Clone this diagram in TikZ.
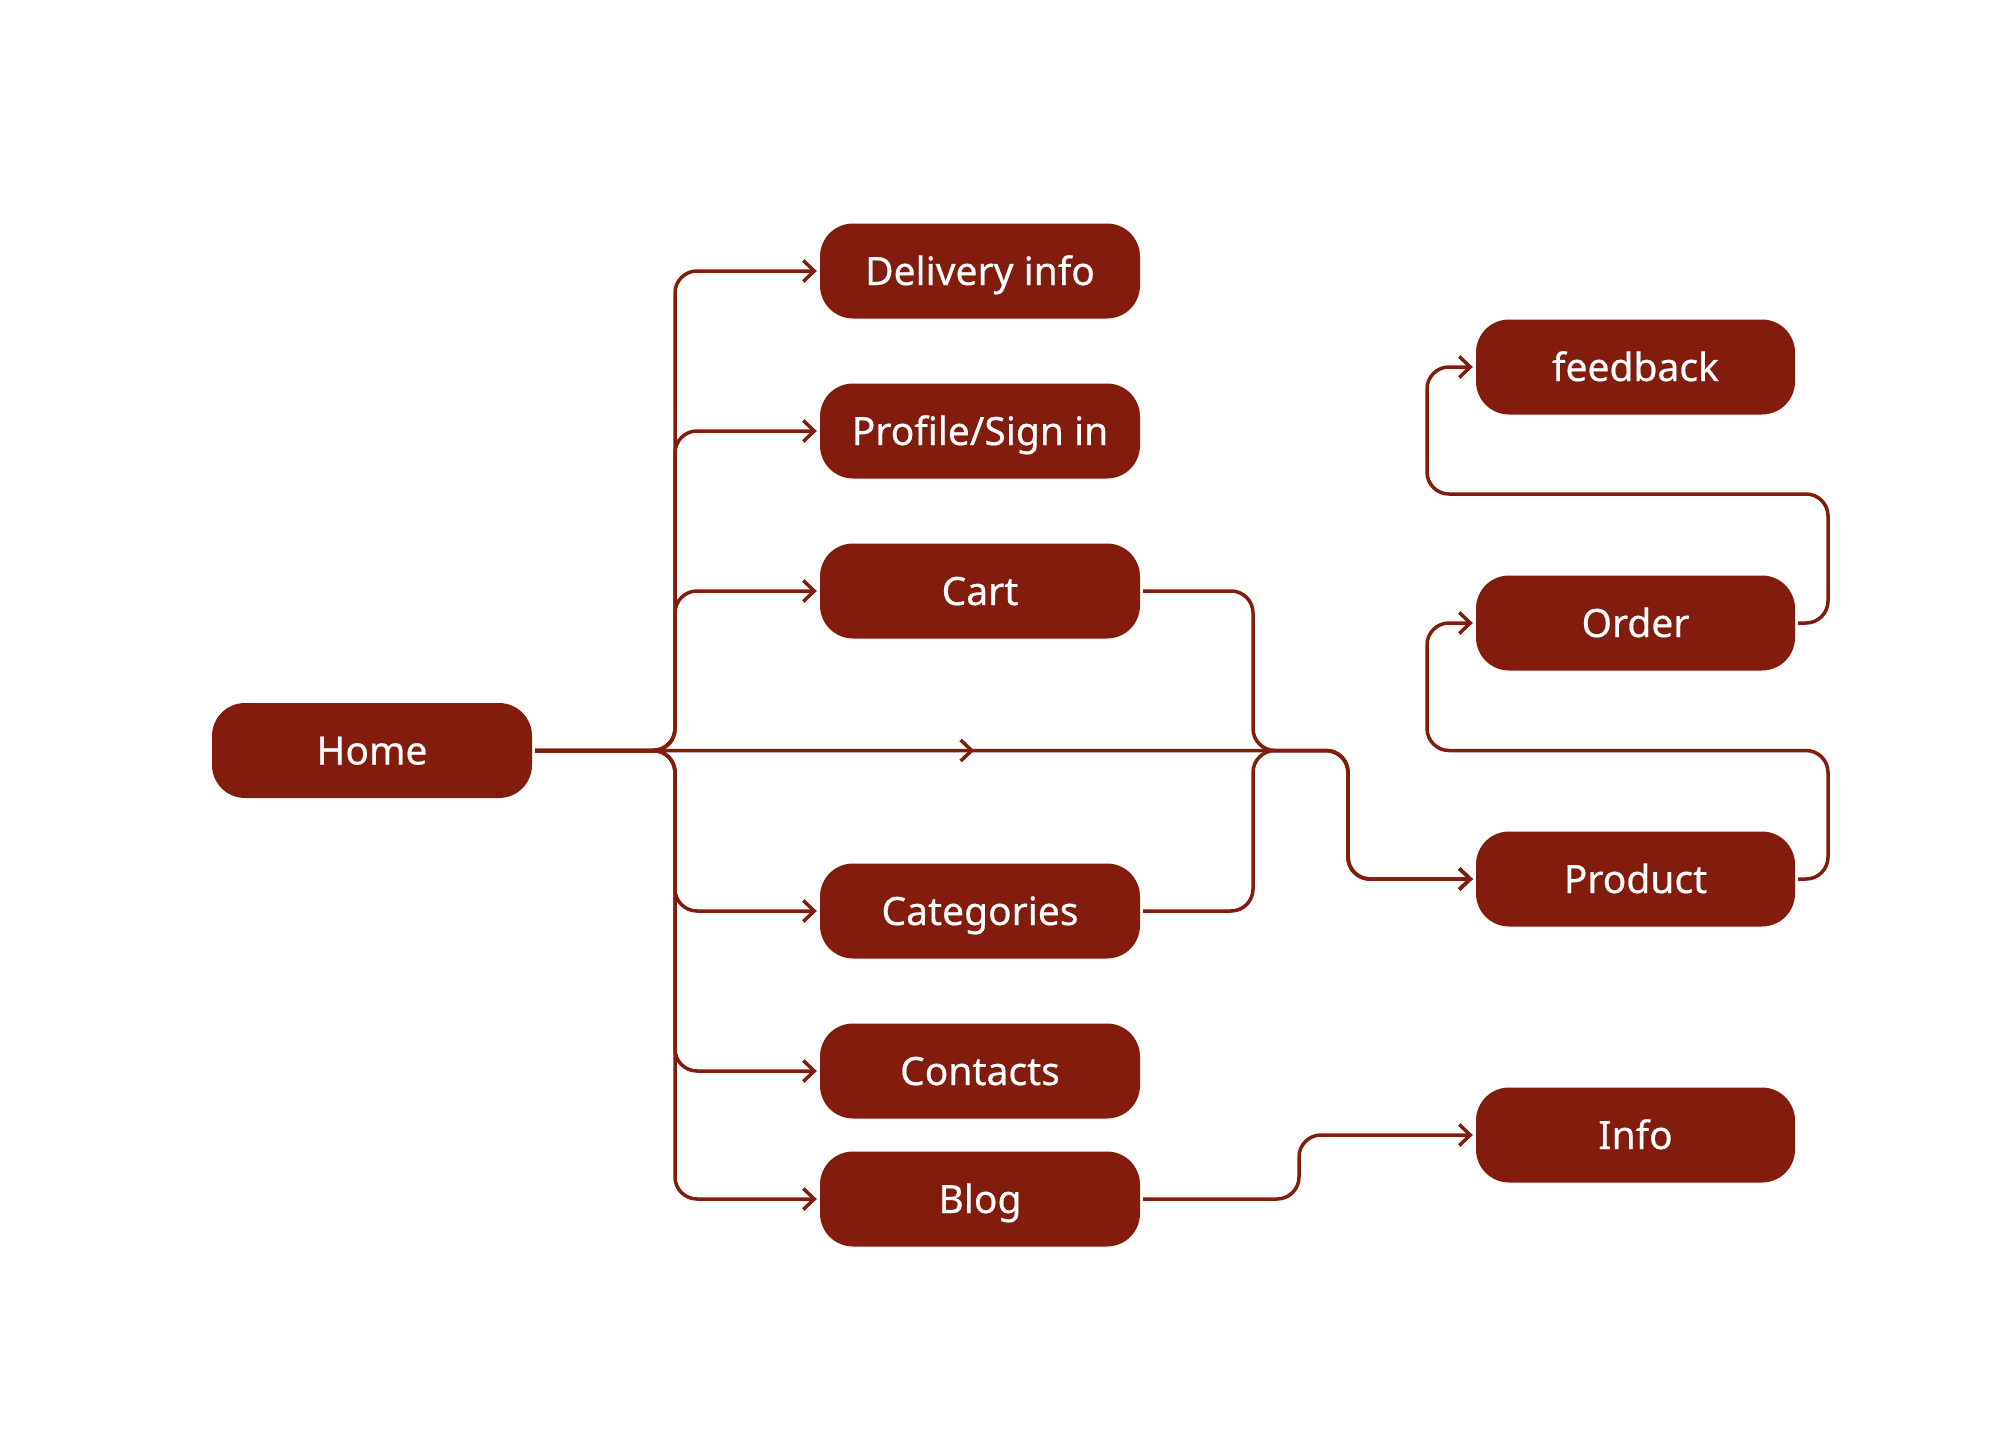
\documentclass[tikz,border=0pt]{standalone}
\usepackage{fontspec}
\setmainfont{Noto Sans}
\newfontfamily\boxfont{Noto Sans}[BoldFont={Noto Sans}, BoldFeatures={FakeBold=0.5}]
\usetikzlibrary{arrows.meta,decorations.markings}
\definecolor{brick}{RGB}{130,29,14}
\tikzset{
  box/.style={fill=brick, text=white, rounded corners=33pt, minimum width=320pt,
    minimum height=95pt, inner sep=0pt, text height=28pt, text depth=0pt,
    font=\boxfont\bfseries\fontsize{39}{47}\selectfont},
  tip/.style={-{Straight Barb[length=11pt,width=21pt,line width=3.5pt]}},
  conn/.style={draw=brick, line width=3.5pt, rounded corners=22pt, tip,
    shorten <=3pt, shorten >=3pt},
  midarrow/.style={postaction={decorate, decoration={markings,
    mark=at position 442pt with {\arrow{Straight Barb[length=11pt,width=21pt,line width=3.5pt]}}}}}
}
\begin{document}
\begin{tikzpicture}[x=1pt,y=-1pt]
\useasboundingbox[fill=white] (0,0) rectangle (2008,1429);
% nodes
\node[box] (home) at (372,750.5) {Home};
\node[box] (delivery) at (980,271) {Delivery info};
\node[box] (profile) at (980,431) {Profile/Sign in};
\node[box] (cart) at (980,591) {Cart};
\node[box] (categories) at (980,911) {Categories};
\node[box] (contacts) at (980,1071) {Contacts};
\node[box] (blog) at (980,1199) {Blog};
\node[box, minimum width=319pt] (feedback) at (1635.5,367) {feedback};
\node[box, minimum width=319pt] (order) at (1635.5,623) {Order};
\node[box, minimum width=319pt] (product) at (1635.5,879) {Product};
\node[box, minimum width=319pt] (info) at (1635.5,1135) {Info};
% coordinates of routing
\coordinate (trunk) at (675,750.5);
\coordinate (merge) at (1253,750.5);
\coordinate (drop) at (1348,750.5);
\coordinate (rloop) at (1828,750.5);
\coordinate (lloop) at (1427,750.5);
\coordinate (rtop) at (1828,494);
\coordinate (ltop) at (1427,494);
\coordinate (bstep) at (1299,1135);
% home to its children
\foreach \c in {delivery,profile,cart,categories,contacts,blog}{
  \draw[conn] (home.east) -- (trunk) -- (trunk |- \c.west) -- (\c.west);
}
% home to product with middle arrow
\draw[conn, midarrow] (home.east) -- (drop) -- (drop |- product.west) -- (product.west);
% cart and categories to product
\draw[conn] (cart.east) -- (merge |- cart.east) -- (merge) -- (drop) -- (drop |- product.west) -- (product.west);
\draw[conn] (categories.east) -- (merge |- categories.east) -- (merge) -- (drop) -- (drop |- product.west) -- (product.west);
% product to order
\draw[conn] (product.east) -- (rloop |- product.east) -- (rloop) -- (lloop) -- (lloop |- order.west) -- (order.west);
% order to feedback
\draw[conn] (order.east) -- (rtop |- order.east) -- (rtop) -- (ltop) -- (ltop |- feedback.west) -- (feedback.west);
% blog to info
\draw[conn] (blog.east) -- (bstep |- blog.east) -- (bstep) -- (info.west);
\end{tikzpicture}
\end{document}
